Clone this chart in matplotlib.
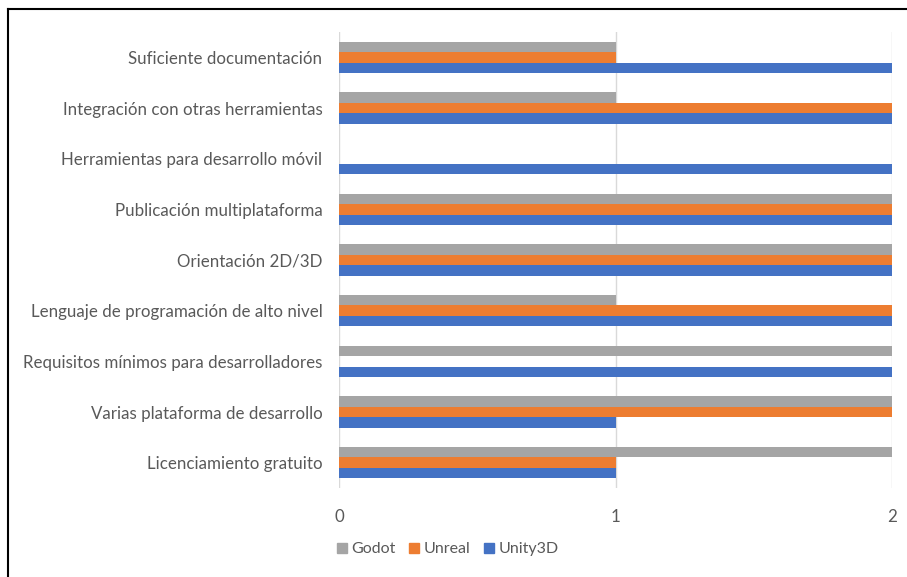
import numpy as np
import matplotlib.pyplot as plt
from matplotlib.lines import Line2D

plt.rcParams['font.family'] = ['Lato', 'DejaVu Sans']

# categories bottom to top
categories = [
    "Licenciamiento gratuito",
    "Varias plataforma de desarrollo",
    "Requisitos mínimos para desarrolladores",
    "Lenguaje de programación de alto nivel",
    "Orientación 2D/3D",
    "Publicación multiplataforma",
    "Herramientas para desarrollo móvil",
    "Integración con otras herramientas",
    "Suficiente documentación",
]
unity = [1, 1, 2, 2, 2, 2, 2, 2, 2]
unreal = [1, 2, 0, 2, 2, 2, 0, 2, 1]
godot = [2, 2, 2, 1, 2, 2, 0, 1, 1]
xticks = [0, 1, 2]

c_unity, c_unreal, c_godot = "#4472C4", "#ED7D31", "#A5A5A5"
txt = "#595959"

fig = plt.figure(figsize=(9.07, 5.77), dpi=100)
ax = fig.add_axes([0.3738, 0.1542, 0.6097, 0.7903])

y = np.arange(len(categories))
h = 0.207
ax.barh(y - h, unity, height=h, color=c_unity, label="Unity3D", zorder=3)
ax.barh(y, unreal, height=h, color=c_unreal, label="Unreal", zorder=3)
ax.barh(y + h, godot, height=h, color=c_godot, label="Godot", zorder=3)

ax.set_xlim(0, 2)
ax.set_ylim(-0.5, len(categories) - 0.5)
ax.set_xticks(xticks)
ax.set_yticks(y)
ax.set_yticklabels(categories)
ax.tick_params(axis="both", length=0, labelsize=12.2, colors=txt)
ax.tick_params(axis="y", pad=12)
ax.tick_params(axis="x", pad=15)
ax.xaxis.grid(True, color="#D9D9D9", linewidth=1, zorder=0)
for s in ax.spines.values():
    s.set_visible(False)

handles = [
    Line2D([], [], marker="s", linestyle="", markersize=7, color=c_godot),
    Line2D([], [], marker="s", linestyle="", markersize=7, color=c_unreal),
    Line2D([], [], marker="s", linestyle="", markersize=7, color=c_unity),
]
fig.legend(handles, ["Godot", "Unreal", "Unity3D"], loc="center",
           bbox_to_anchor=(0.493, 0.048), ncol=3, frameon=False,
           fontsize=11.5, labelcolor=txt, handletextpad=0.25,
           columnspacing=0.8, handlelength=0.7)

# black frame lines (left and top only)
fig.add_artist(Line2D([0.009, 0.009], [0, 0.984], color="black", linewidth=1.5,
                      transform=fig.transFigure))
fig.add_artist(Line2D([0.009, 1], [0.984, 0.984], color="black", linewidth=1.5,
                      transform=fig.transFigure))

fig.savefig("out.png", dpi=100)
